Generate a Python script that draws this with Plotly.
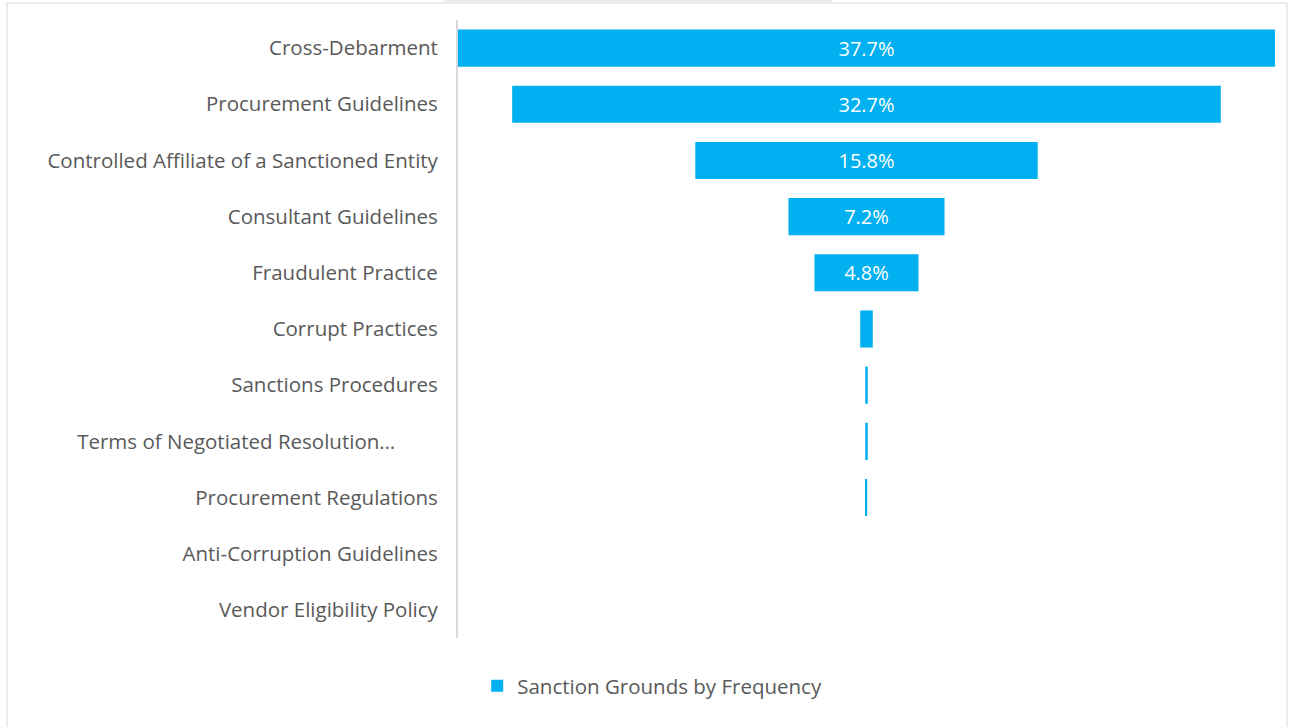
import plotly.graph_objects as go

categories = [
    "Cross-Debarment",
    "Procurement Guidelines",
    "Controlled Affiliate of a Sanctioned Entity",
    "Consultant Guidelines",
    "Fraudulent Practice",
    "Corrupt Practices",
    "Sanctions Procedures",
    "Terms of Negotiated Resolution…",
    "Procurement Regulations",
    "Anti-Corruption Guidelines",
    "Vendor Eligibility Policy",
]
values = [37.7, 32.7, 15.8, 7.2, 4.8, 0.58, 0.12, 0.12, 0.06, 0.0, 0.0]
labels = ["37.7%", "32.7%", "15.8%", "7.2%", "4.8%", "", "", "", "", "", ""]
series_name = "Sanction Grounds by Frequency"

W, H = 1294, 727
ML, MR, MT, MB = 458, 19, 20, 89
PW = W - ML - MR
PH = H - MT - MB
FS = 20.5

def px2x(px):
    return (px - ML) / PW

def py2y(py):
    return 1 - (py - MT) / PH

ticktext = [c + ("\u00a0" * 8 if c.startswith("Terms") else "") for c in categories]

fig = go.Figure()
fig.add_trace(go.Funnel(
    y=categories,
    x=values,
    name=series_name,
    text=labels,
    textinfo="text",
    textposition="inside",
    insidetextanchor="middle",
    textfont=dict(color="white", size=20, family="Open Sans"),
    marker=dict(color="#00B0F0", line=dict(width=0)),
    connector=dict(visible=False),
    showlegend=True,
    hoverinfo="x+y",
))

maxv = max(values)
fig.update_layout(
    width=W, height=H,
    margin=dict(l=ML, r=MR, t=MT, b=MB),
    paper_bgcolor="white",
    plot_bgcolor="white",
    funnelgap=0.34,
    font=dict(family="Open Sans", color="#595959", size=FS),
    xaxis=dict(visible=False, range=[-maxv / 2, maxv / 2]),
    yaxis=dict(
        categoryorder="array", categoryarray=categories,
        tickmode="array", tickvals=categories, ticktext=ticktext,
        autorange="reversed",
        showline=True, linecolor="#d9d9d9", linewidth=2,
        ticks="outside", ticklen=14, tickcolor="rgba(0,0,0,0)",
        showgrid=False,
        tickfont=dict(size=FS, color="#595959", family="Open Sans"),
    ),
    legend=dict(
        orientation="h", xref="container", yref="container",
        x=0.504, xanchor="center", y=(H - 686) / H, yanchor="middle",
        font=dict(size=FS, color="#595959", family="Open Sans"),
    ),
    shapes=[
        dict(type="rect", xref="paper", yref="paper",
             x0=px2x(7), x1=px2x(1287), y0=py2y(740), y1=py2y(3),
             line=dict(color="#d9d9d9", width=1), fillcolor="rgba(0,0,0,0)", layer="below"),
        dict(type="rect", xref="paper", yref="paper",
             x0=px2x(443), x1=px2x(832), y0=py2y(3), y1=py2y(0),
             line=dict(width=0), fillcolor="#ececec", layer="below"),
    ],
)

fig.write_html("out.html")
